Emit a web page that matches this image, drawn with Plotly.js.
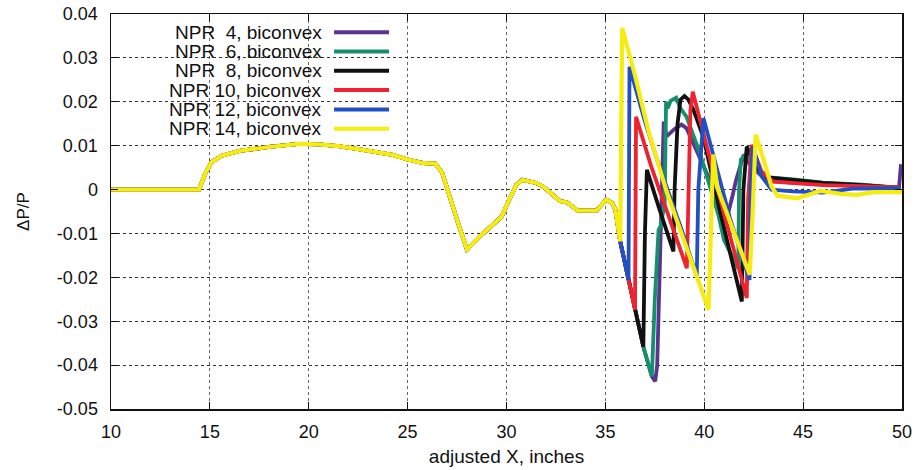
<!DOCTYPE html>
<html>
<head>
<meta charset="utf-8">
<script src="https://cdn.plot.ly/plotly-3.0.1.min.js"></script>
<style>
  html, body { margin: 0; padding: 0; background: #fff; }
  #chart { width: 916px; height: 470px; }
</style>
</head>
<body>
<div id="chart"></div>
<script>
// ---- data ----
const legendLabels = [
  "NPR\u00a0\u00a04, biconvex",
  "NPR\u00a0\u00a06, biconvex",
  "NPR\u00a0\u00a08, biconvex",
  "NPR 10, biconvex",
  "NPR 12, biconvex",
  "NPR 14, biconvex"
];

// shared upstream part (all runs coincide here)
const upstreamX = [10, 14.45, 14.8, 15.1, 15.6, 16.5, 18, 19.5, 20.5, 21.5, 22.5, 23.6, 24.25, 24.95, 25.8, 26.4, 26.75, 27.5, 28.0, 28.65, 29.35, 29.75, 30.1, 30.5, 30.8, 31.5, 31.85, 32.7, 33.1, 33.6, 34.55, 35.05, 35.35, 35.5];
const upstreamY = [0, 0, 0.004, 0.0063, 0.0077, 0.0088, 0.0097, 0.0104, 0.0103, 0.0099, 0.0092, 0.0083, 0.0079, 0.0069, 0.006, 0.0059, 0.0038, -0.0069, -0.0137, -0.0107, -0.0078, -0.0062, -0.0027, 0.0011, 0.0022, 0.0015, 0.0007, -0.0026, -0.003, -0.0048, -0.0048, -0.0023, -0.0031, -0.0045];

const npr4X = [35.75, 36.17, 36.5, 36.92, 37.35, 37.52, 37.62, 37.75, 37.85, 37.95, 38.1, 38.5, 38.85, 39.1, 40.2, 41.2, 41.4, 41.6, 41.8, 42.0, 42.4, 43.2, 44.5, 46, 48, 49.85, 49.95];
const npr4Y = [-0.0118, -0.0206, -0.0274, -0.0358, -0.0426, -0.0437, -0.040, -0.020, 0.0, 0.0155, 0.0121, 0.0138, 0.0148, 0.014, 0.003, -0.0055, -0.002, 0.002, 0.005, 0.008, 0.005, 0.002, 0.0016, 0.0012, 0.0008, 0.0005, 0.0058];

const npr6X = [35.75, 36.17, 36.5, 36.92, 37.35, 37.5, 37.69, 37.8, 38.0, 38.07, 38.15, 38.3, 38.58, 38.78, 39.1, 39.8, 40.7, 41.0, 41.72, 41.76, 41.85, 42.1, 42.6, 43.3, 44.5, 46, 48, 49.9];
const npr6Y = [-0.0118, -0.0206, -0.0274, -0.0358, -0.0426, -0.025, -0.0092, -0.0082, -0.003, 0.02, 0.0185, 0.0202, 0.0209, 0.0186, 0.0166, 0.008, -0.0055, -0.0115, -0.018, 0.0, 0.0068, 0.008, 0.005, 0.0028, 0.0023, 0.0016, 0.0011, 0.0004];

const npr8X = [35.75, 36.17, 36.5, 36.92, 37.0, 37.1, 37.7, 38.44, 38.5, 38.65, 38.8, 39.0, 39.2, 39.45, 39.95, 40.8, 41.9, 41.98, 42.15, 42.6, 43.2, 44.5, 46, 48, 49.9];
const npr8Y = [-0.0118, -0.0206, -0.0274, -0.0358, -0.01, 0.0045, -0.004, -0.0141, 0.0, 0.015, 0.0205, 0.0213, 0.0205, 0.0182, 0.012, -0.005, -0.0255, 0.0, 0.0098, 0.005, 0.0028, 0.0022, 0.0015, 0.001, 0.0004];

const npr10X = [35.75, 36.17, 36.5, 36.55, 37.3, 38.0, 38.6, 39.12, 39.3, 39.42, 40.2, 41.0, 42.15, 42.22, 42.4, 42.9, 43.5, 44.5, 46, 48, 49.9];
const npr10Y = [-0.0118, -0.0206, -0.0274, 0.0166, 0.0055, -0.0035, -0.011, -0.0179, 0.018, 0.0223, 0.0085, -0.0055, -0.0247, -0.002, 0.0102, 0.004, 0.0018, 0.0015, 0.001, 0.0008, 0.0005];

const npr12X = [35.75, 36.17, 36.22, 37.0, 37.6, 38.3, 39.0, 39.62, 39.7, 39.96, 40.6, 41.3, 42.29, 42.35, 42.45, 42.9, 43.4, 44.5, 46.0, 47.5, 49.9];
const npr12Y = [-0.0118, -0.0206, 0.028, 0.0155, 0.007, -0.002, -0.011, -0.0198, 0.0, 0.0163, 0.0055, -0.0065, -0.0206, 0.0, 0.0098, 0.003, 0.0, -0.0004, -0.0007, 0.0002, 0.0003];

const npr14X = [35.75, 35.85, 36.5, 37.2, 38.1, 39.1, 39.7, 40.22, 40.45, 40.65, 41.4, 42.3, 42.45, 42.6, 43.0, 43.4, 43.7, 44.7, 45.9, 46.9, 47.7, 48.6, 50.0];
const npr14Y = [-0.0118, 0.0368, 0.026, 0.013, -0.0005, -0.013, -0.0205, -0.0274, 0.008, 0.0005, -0.0085, -0.0194, -0.005, 0.0125, 0.0068, 0.0007, -0.0014, -0.002, -0.0003, -0.001, -0.0012, -0.0006, -0.0006];

const seriesX = [npr4X, npr6X, npr8X, npr10X, npr12X, npr14X];
const seriesY = [npr4Y, npr6Y, npr8Y, npr10Y, npr12Y, npr14Y];

// ---- styles ----
const colors = ["#5a3590", "#16906a", "#111111", "#ee2230", "#2050c4", "#f7ec12"];
const widths = [3.8, 3.8, 3.8, 3.8, 3.8, 4.2];
const FONT = "Liberation Sans, Arial, Helvetica, sans-serif";

const traces = seriesX.map((sx, i) => ({
  type: "scatter",
  mode: "lines",
  name: legendLabels[i],
  x: upstreamX.concat(sx),
  y: upstreamY.concat(seriesY[i]),
  line: { color: colors[i], width: widths[i] },
  showlegend: false,
  hoverinfo: "skip"
}));

// custom legend (text right-aligned, sample line on the right)
const legTop = 0.954, legStep = 0.0489;
const annotations = legendLabels.map((t, i) => ({
  xref: "paper", yref: "paper",
  x: 0.268, y: legTop - i * legStep,
  xanchor: "right", yanchor: "middle",
  text: t, showarrow: false,
  font: { family: FONT, size: 19, color: "#111" },
  borderpad: 0
}));
const shapes = legendLabels.map((t, i) => ({
  type: "line", xref: "paper", yref: "paper",
  x0: 0.282, x1: 0.3515,
  y0: legTop - i * legStep, y1: legTop - i * legStep,
  line: { color: colors[i], width: 4 }
}));

const layout = {
  width: 916, height: 470,
  margin: { l: 111, r: 14, t: 14, b: 61 },
  paper_bgcolor: "#ffffff",
  plot_bgcolor: "#ffffff",
  font: { family: FONT, size: 18, color: "#111" },
  xaxis: {
    range: [10, 50],
    tickvals: [10, 15, 20, 25, 30, 35, 40, 45, 50],
    ticks: "inside", ticklen: 7, tickwidth: 1.2, tickcolor: "#111",
    showline: true, linecolor: "#111", linewidth: 1.5, mirror: "ticks",
    showgrid: true, gridcolor: "#666", griddash: "dot", gridwidth: 1,
    zeroline: false,
    tickfont: { family: FONT, size: 18, color: "#111" },
    ticklabelstandoff: 6,
    title: { text: "adjusted X, inches", font: { family: FONT, size: 19, color: "#111" }, standoff: 8 }
  },
  yaxis: {
    range: [-0.05, 0.04],
    tickvals: [-0.05, -0.04, -0.03, -0.02, -0.01, 0, 0.01, 0.02, 0.03, 0.04],
    ticktext: ["-0.05", "-0.04", "-0.03", "-0.02", "-0.01", "0", "0.01", "0.02", "0.03", "0.04"],
    ticks: "inside", ticklen: 7, tickwidth: 1.2, tickcolor: "#111",
    showline: true, linecolor: "#111", linewidth: 1.5, mirror: "ticks",
    showgrid: true, gridcolor: "#333", griddash: "dot", gridwidth: 1,
    zeroline: false,
    tickfont: { family: FONT, size: 18, color: "#111" },
    ticklabelstandoff: 8,
    title: { text: "\u0394P/P", font: { family: FONT, size: 17, color: "#111" }, standoff: 23 }
  },
  annotations: annotations,
  shapes: shapes
};

Plotly.newPlot("chart", traces, layout, { staticPlot: true, displayModeBar: false });
</script>
</body>
</html>
